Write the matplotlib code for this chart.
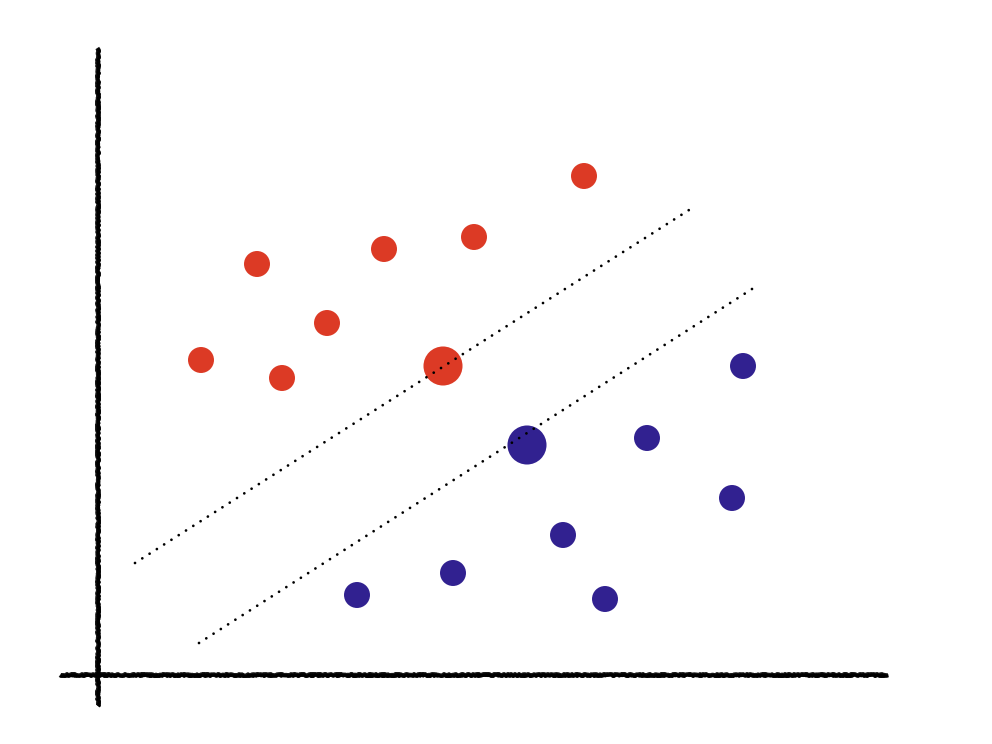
import numpy as np
import matplotlib.pyplot as plt

# Class A (red) and class B (blue) points; the big ones are the support vectors
red_x = [15.9, 28.6, 37.6, 48.6, 22.9, 10.3, 18.4]
red_y = [41.1, 42.6, 43.8, 49.9, 35.2, 31.5, 29.7]
red_sv = (34.5, 30.9)

blue_x = [64.5, 54.9, 63.4, 46.5, 35.5, 25.9, 50.7]
blue_y = [30.9, 23.7, 17.7, 14.0, 10.2, 8.0, 7.6]
blue_sv = (42.9, 23.0)

# margin lines (start, end)
upper_margin = [(3.7, 11.2), (59.1, 46.5)]
lower_margin = [(10.1, 3.2), (65.4, 38.6)]

RED = '#dc3a25'
BLUE = '#312190'

fig = plt.figure(figsize=(9.92, 7.44), dpi=100)
ax = fig.add_axes([0, 0, 1, 1])
ax.set_xlim(-9.8, 89.4)
ax.set_ylim(-6.9, 67.5)
ax.axis('off')

# rough hand-drawn axes
for xs, ys in [([-3.8, 79.0], [0, 0]), ([0, 0], [-3.1, 62.7])]:
    for lw, alpha in [(3.2, 0.9), (2.2, 1.0)]:
        ln, = ax.plot(xs, ys, color='black', lw=lw, alpha=alpha, solid_capstyle='butt')
        ln.set_sketch_params(scale=0.8, length=1.5, randomness=4)

# dotted margins
for (x0, y0), (x1, y1) in [upper_margin, lower_margin]:
    ax.plot([x0, x1], [y0, y1], color='black', lw=2.0,
            linestyle=(0, (0.01, 3.1)), dash_capstyle='round', zorder=3)

ax.scatter(red_x, red_y, s=350, color=RED, edgecolors='none', zorder=2)
ax.scatter(blue_x, blue_y, s=350, color=BLUE, edgecolors='none', zorder=2)
ax.scatter([red_sv[0]], [red_sv[1]], s=790, color=RED, edgecolors='none', zorder=2)
ax.scatter([blue_sv[0]], [blue_sv[1]], s=790, color=BLUE, edgecolors='none', zorder=2)

fig.savefig('out.png', dpi=100)
